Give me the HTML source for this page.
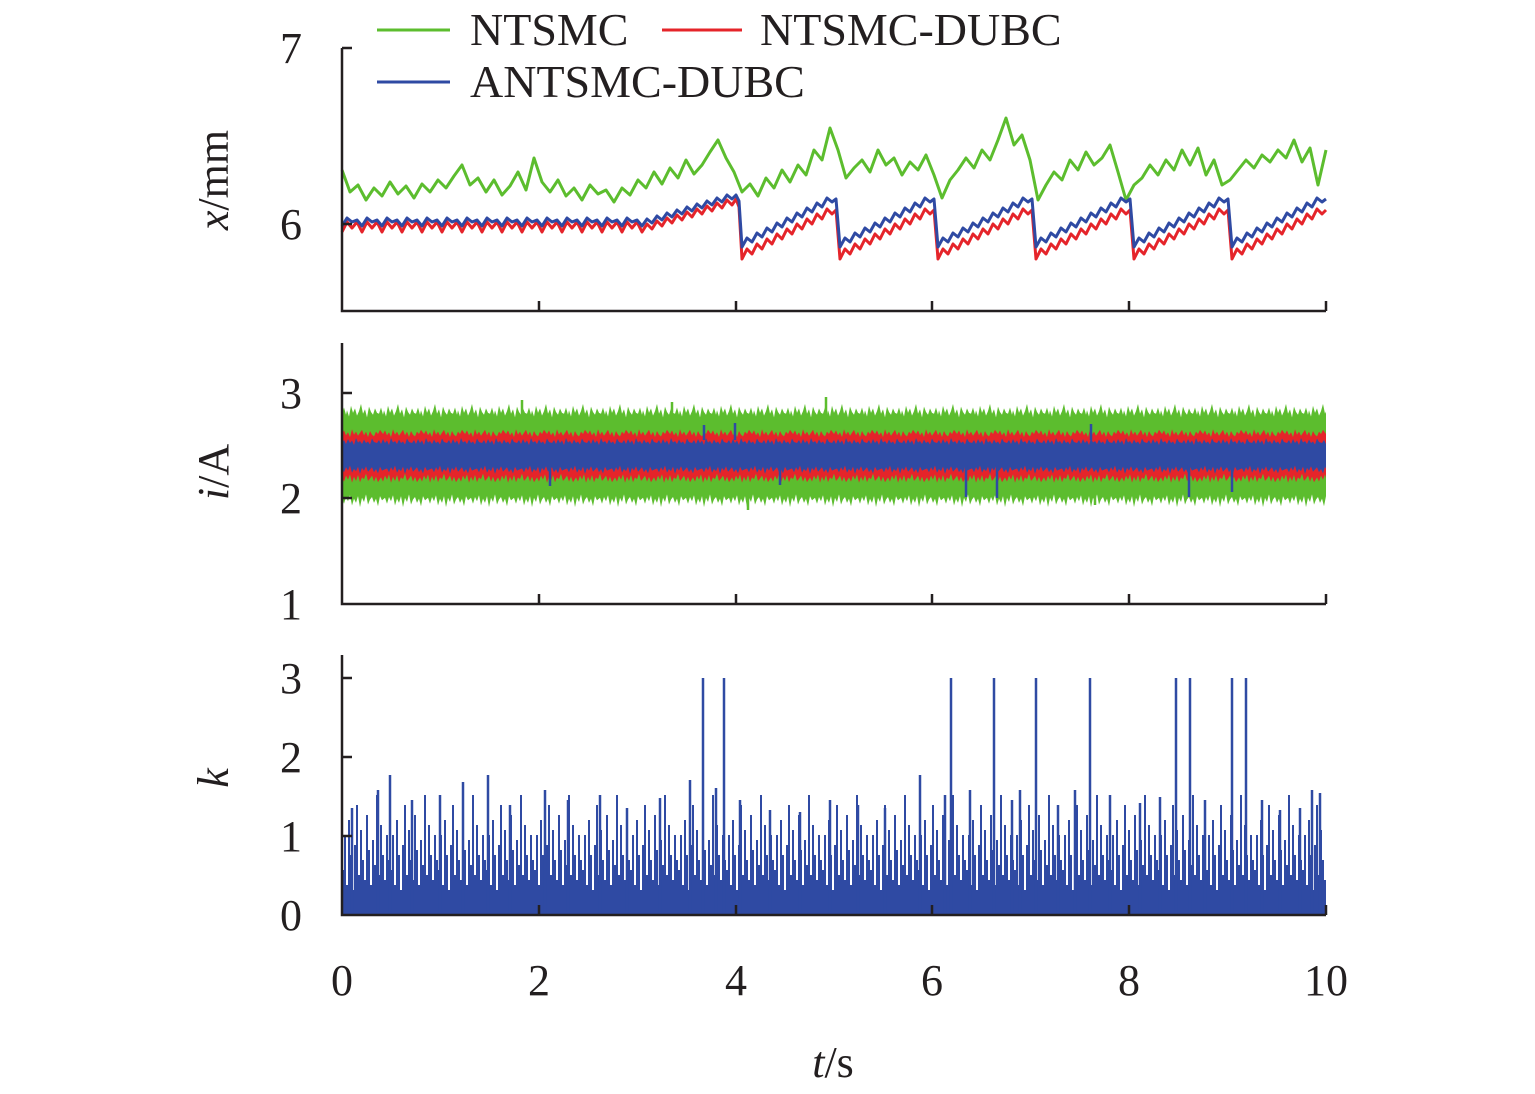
<!DOCTYPE html>
<html><head><meta charset="utf-8"><style>
html,body{margin:0;padding:0;background:#fff;}
svg{display:block;}
text{font-family:"Liberation Serif",serif;fill:#231f20;}
</style></head><body>
<svg width="1535" height="1094" xmlns="http://www.w3.org/2000/svg">

<!-- panel 2 bands -->
<svg x="342" y="403" width="984" height="18" viewBox="0 0 984 20" preserveAspectRatio="none" overflow="visible">
<defs><pattern id="g1" patternUnits="userSpaceOnUse" width="37" height="20"><polygon points="0,20 0,12 2,5 4,13 5,8 7,15 9,3 11,11 13,6 15,14 17,9 19,1 21,12 23,7 25,16 27,4 29,10 31,13 33,6 35,11 37,12 37,20" fill="#5cbd2e"/></pattern></defs>
<rect width="984" height="20" fill="url(#g1)"/></svg>
<rect x="342" y="420" width="984" height="72" fill="#5cbd2e"/>
<svg x="342" y="491" width="984" height="17" viewBox="0 0 984 20" preserveAspectRatio="none">
<defs><pattern id="g2" patternUnits="userSpaceOnUse" width="43" height="20"><polygon points="0,0 0,8 2,15 4,7 6,12 8,5 10,17 12,9 14,14 16,6 18,19 20,8 22,13 24,4 26,16 28,10 30,7 32,14 34,9 36,18 38,6 40,11 43,8 43,0" fill="#5cbd2e"/></pattern></defs>
<rect width="984" height="20" fill="url(#g2)"/></svg>

<svg x="342" y="428" width="984" height="12" viewBox="0 0 984 20" preserveAspectRatio="none">
<defs><pattern id="r1" patternUnits="userSpaceOnUse" width="41" height="20"><polygon points="0,20 0,10 2,4 4,12 6,7 8,15 10,2 12,11 14,6 16,13 18,8 20,3 22,12 24,6 26,15 28,5 30,11 32,14 34,6 36,10 38,3 41,10 41,20" fill="#e5242a"/></pattern></defs>
<rect width="984" height="20" fill="url(#r1)"/></svg>
<rect x="342" y="439" width="984" height="34" fill="#e5242a"/>
<svg x="342" y="472" width="984" height="12" viewBox="0 0 984 20" preserveAspectRatio="none">
<defs><pattern id="r2" patternUnits="userSpaceOnUse" width="39" height="20"><polygon points="0,0 0,9 2,16 4,6 6,13 8,4 10,18 12,8 14,15 16,5 18,17 20,9 22,12 24,3 26,15 28,11 30,6 32,16 34,8 36,17 39,9 39,0" fill="#e5242a"/></pattern></defs>
<rect width="984" height="20" fill="url(#r2)"/></svg>

<svg x="342" y="437" width="984" height="10" viewBox="0 0 984 20" preserveAspectRatio="none">
<defs><pattern id="b1" patternUnits="userSpaceOnUse" width="35" height="20"><polygon points="0,20 0,12 2,6 4,14 6,4 8,12 10,7 12,16 14,2 16,11 18,8 20,14 22,5 24,12 26,9 28,15 30,3 32,10 35,12 35,20" fill="#2f4aa3"/></pattern></defs>
<rect width="984" height="20" fill="url(#b1)"/></svg>
<rect x="342" y="446" width="984" height="19" fill="#2f4aa3"/>
<svg x="342" y="464" width="984" height="11" viewBox="0 0 984 20" preserveAspectRatio="none">
<defs><pattern id="b2" patternUnits="userSpaceOnUse" width="45" height="20"><polygon points="0,0 0,8 2,15 4,6 6,12 8,3 10,16 12,9 14,13 16,5 18,18 20,7 22,12 24,4 26,14 28,10 30,6 32,15 34,9 36,17 38,5 40,12 45,8 45,0" fill="#2f4aa3"/></pattern></defs>
<rect width="984" height="20" fill="url(#b2)"/></svg>
<g stroke="#2f4aa3" stroke-width="2.5">
<path d="M704,440V425M735,440V423M1091,440V424M966,465V497M997,465V498M1189,465V497M1232,465V492M780,465V485M550,465V486"/>
</g>
<g stroke="#5cbd2e" stroke-width="2.5">
<path d="M522,420V400M826,420V397M748,490V510M1095,490V505M672,420V402"/>
</g>

<!-- panel 3 k -->
<defs>
<pattern id="kp" patternUnits="userSpaceOnUse" x="342" y="655" width="48" height="260">
<g stroke="#2f4aa3" stroke-width="2">
<path d="M1,260V215M3,260V180M5,260V230M7,260V165M9,260V200M11,260V235M13,260V190M15,260V150M17,260V220M19,260V175M21,260V205M23,260V225M25,260V160M27,260V195M29,260V230M31,260V185M33,260V210M35,260V140M37,260V220M39,260V170M41,260V200M43,260V225M45,260V180M47,260V205"/>
</g>
</pattern>
</defs>
<rect x="342" y="655" width="984" height="260" fill="url(#kp)"/>
<rect x="342" y="890" width="984" height="25" fill="#2f4aa3"/>
<g stroke="#2f4aa3" stroke-width="2.5">
<path d="M703,915V678M724,915V678M951,915V678M994,915V678M1036,915V678M1090,915V678M1176,915V678M1190,915V678M1232,915V678M1246,915V678"/>
<path d="M352,915V808M378,915V790M390,915V775M412,915V800M440,915V795M463,915V782M488,915V775M510,915V805M545,915V790M568,915V800M600,915V795M627,915V808M660,915V798M690,915V780M716,915V788M740,915V800M770,915V810M800,915V812M830,915V800M858,915V805M885,915V808M920,915V775M945,915V795M970,915V790M1012,915V800M1020,915V790M1058,915V805M1075,915V790M1110,915V795M1140,915V803M1160,915V797M1205,915V800M1262,915V800M1280,915V810M1300,915V808M1312,915V790M1320,915V793"/>
</g>

<!-- panel 1 lines -->
<polyline fill="none" stroke="#5cbd2e" stroke-width="3" stroke-linejoin="round" points="342,170 350,192 358,185 366,200 374,188 382,196 390,182 398,194 406,186 414,198 422,184 430,192 438,180 446,188 454,176 462,165 470,185 478,178 486,192 494,180 502,195 510,186 518,172 526,190 534,158 542,182 550,192 558,180 566,196 574,188 582,200 590,185 598,194 606,190 614,202 622,188 630,195 638,180 646,188 654,172 662,184 670,168 678,178 686,160 694,174 702,165 710,152 718,140 726,158 734,172 742,192 750,184 758,196 766,178 774,188 782,170 790,182 798,165 806,175 814,150 822,160 830,128 838,150 846,178 854,168 862,160 870,172 878,150 886,165 894,158 902,175 910,162 918,170 926,155 934,175 942,198 950,180 958,170 966,158 974,168 982,150 990,160 998,140 1006,118 1014,145 1022,135 1030,160 1038,200 1046,185 1054,172 1062,180 1070,160 1078,170 1086,152 1094,165 1102,158 1110,145 1118,172 1126,200 1134,185 1142,178 1150,165 1158,175 1166,160 1174,170 1182,150 1190,165 1198,148 1206,175 1214,160 1222,185 1230,180 1238,170 1246,160 1254,168 1262,155 1270,162 1278,150 1286,158 1294,140 1302,162 1310,148 1318,185 1326,150"/>
<path fill="none" stroke="#e5242a" stroke-width="3" stroke-linejoin="round" d="M342,232 l5,-10 l5,6 l5,-6 l5,10 l5,-10 l5,6 l5,-6 l5,10 l5,-10 l5,6 l5,-6 l5,10 l5,-10 l5,6 l5,-6 l5,10 l5,-10 l5,6 l5,-6 l5,10 l5,-10 l5,6 l5,-6 l5,10 l5,-10 l5,6 l5,-6 l5,10 l5,-10 l5,6 l5,-6 l5,10 l5,-10 l5,6 l5,-6 l5,10 l5,-10 l5,6 l5,-6 l5,10 l5,-10 l5,6 l5,-6 l5,10 l5,-10 l5,6 l5,-6 l5,10 l5,-10 l5,6 l5,-6 l5,10 l5,-10 l5,6 l5,-6 l5,10 l5,-10 l5,6 l5,-6 l5,10 l5,-8 l5,5 l5,-8 l5,5 l5,-8 l5,5 l5,-8 l5,5 l5,-8 l5,5 l5,-8 l5,5 l5,-8 l5,5 l5,-8 l5,5 l5,-8 l5,5 l4,-6 l3,8 l3,52
l5,-10 l5,5 l5,-10 l5,5 l5,-10 l5,5 l5,-10 l5,5 l5,-10 l5,5 l5,-10 l5,5 l5,-10 l5,5 l5,-10 l5,5 l5,-10 l5,5 l4,-4 l4,49
l5,-10 l5,5 l5,-10 l5,5 l5,-10 l5,5 l5,-10 l5,5 l5,-10 l5,5 l5,-10 l5,5 l5,-10 l5,5 l5,-10 l5,5 l5,-10 l5,5 l4,-4 l4,49
l5,-10 l5,5 l5,-10 l5,5 l5,-10 l5,5 l5,-10 l5,5 l5,-10 l5,5 l5,-10 l5,5 l5,-10 l5,5 l5,-10 l5,5 l5,-10 l5,5 l4,-4 l4,49
l5,-10 l5,5 l5,-10 l5,5 l5,-10 l5,5 l5,-10 l5,5 l5,-10 l5,5 l5,-10 l5,5 l5,-10 l5,5 l5,-10 l5,5 l5,-10 l5,5 l4,-4 l4,49
l5,-10 l5,5 l5,-10 l5,5 l5,-10 l5,5 l5,-10 l5,5 l5,-10 l5,5 l5,-10 l5,5 l5,-10 l5,5 l5,-10 l5,5 l5,-10 l5,5 l4,-4 l4,49
l5,-10 l5,5 l5,-10 l5,5 l5,-10 l5,5 l5,-10 l5,5 l5,-10 l5,5 l5,-10 l5,5 l5,-10 l5,5 l5,-10 l5,5 l5,-10 l5,5 l4,-4"/>
<path fill="none" stroke="#2f4aa3" stroke-width="3" stroke-linejoin="round" d="M342,226 l5,-8 l5,4 l5,-2 l5,6 l5,-8 l5,4 l5,-2 l5,6 l5,-8 l5,4 l5,-2 l5,6 l5,-8 l5,4 l5,-2 l5,6 l5,-8 l5,4 l5,-2 l5,6 l5,-8 l5,4 l5,-2 l5,6 l5,-8 l5,4 l5,-2 l5,6 l5,-8 l5,4 l5,-2 l5,6 l5,-8 l5,4 l5,-2 l5,6 l5,-8 l5,4 l5,-2 l5,6 l5,-8 l5,4 l5,-2 l5,6 l5,-8 l5,4 l5,-2 l5,6 l5,-8 l5,4 l5,-2 l5,6 l5,-8 l5,4 l5,-2 l5,6 l5,-8 l5,4 l5,-2 l5,6 l5,-7 l5,4 l5,-7 l5,4 l5,-7 l5,4 l5,-7 l5,4 l5,-7 l5,4 l5,-7 l5,4 l5,-7 l5,4 l5,-7 l5,4 l5,-7 l5,4 l4,-4 l3,6 l3,46
l5,-9 l5,4 l5,-9 l5,4 l5,-9 l5,4 l5,-9 l5,4 l5,-9 l5,4 l5,-9 l5,4 l5,-9 l5,4 l5,-9 l5,4 l5,-9 l5,4 l4,-3 l4,48
l5,-9 l5,4 l5,-9 l5,4 l5,-9 l5,4 l5,-9 l5,4 l5,-9 l5,4 l5,-9 l5,4 l5,-9 l5,4 l5,-9 l5,4 l5,-9 l5,4 l4,-3 l4,48
l5,-9 l5,4 l5,-9 l5,4 l5,-9 l5,4 l5,-9 l5,4 l5,-9 l5,4 l5,-9 l5,4 l5,-9 l5,4 l5,-9 l5,4 l5,-9 l5,4 l4,-3 l4,48
l5,-9 l5,4 l5,-9 l5,4 l5,-9 l5,4 l5,-9 l5,4 l5,-9 l5,4 l5,-9 l5,4 l5,-9 l5,4 l5,-9 l5,4 l5,-9 l5,4 l4,-3 l4,48
l5,-9 l5,4 l5,-9 l5,4 l5,-9 l5,4 l5,-9 l5,4 l5,-9 l5,4 l5,-9 l5,4 l5,-9 l5,4 l5,-9 l5,4 l5,-9 l5,4 l4,-3 l4,48
l5,-9 l5,4 l5,-9 l5,4 l5,-9 l5,4 l5,-9 l5,4 l5,-9 l5,4 l5,-9 l5,4 l5,-9 l5,4 l5,-9 l5,4 l5,-9 l5,4 l4,-3"/>

<g stroke="#231f20" stroke-width="2.5" fill="none">
<path d="M342,48V311H1326M342,48h10"/>
<path d="M342,343V604H1326M342,393h10M342,498h10"/>
<path d="M342,655V915H1326M342,678h10M342,757h10M342,836h10"/>
<path d="M539,311v-10M736,311v-10M932,311v-10M1129,311v-10M1326,311v-10"/>
<path d="M539,604v-10M736,604v-10M932,604v-10M1129,604v-10M1326,604v-10"/>
<path d="M539,915v-10M736,915v-10M932,915v-10M1129,915v-10M1326,915v-10"/>
<path d="M342,224h10"/>
</g>
<g font-size="44" text-anchor="end">
<text x="302" y="63">7</text><text x="302" y="239">6</text>
<text x="302" y="408">3</text><text x="302" y="513">2</text><text x="302" y="619">1</text>
<text x="302" y="693">3</text><text x="302" y="772">2</text><text x="302" y="851">1</text><text x="302" y="930">0</text>
</g>
<g font-size="44" text-anchor="middle">
<text x="342" y="995">0</text><text x="539" y="995">2</text><text x="736" y="995">4</text>
<text x="932" y="995">6</text><text x="1129" y="995">8</text><text x="1326" y="995">10</text>
<text x="833" y="1077"><tspan font-style="italic">t</tspan>/s</text>
</g>
<g font-size="44" text-anchor="middle">
<text transform="translate(228,180) rotate(-90)"><tspan font-style="italic">x</tspan>/mm</text>
<text transform="translate(228,472) rotate(-90)"><tspan font-style="italic">i</tspan>/A</text>
<text transform="translate(228,778) rotate(-90)" font-style="italic">k</text>
</g>
<g stroke-width="3">
<line x1="377" y1="30" x2="450" y2="30" stroke="#5cbd2e"/>
<line x1="662" y1="30" x2="742" y2="30" stroke="#e5242a"/>
<line x1="377" y1="82" x2="450" y2="82" stroke="#2f4aa3"/>
</g>
<g font-size="46">
<text x="470" y="45">NTSMC</text>
<text x="760" y="45">NTSMC-DUBC</text>
<text x="470" y="97">ANTSMC-DUBC</text>
</g>
</svg>
</body></html>
